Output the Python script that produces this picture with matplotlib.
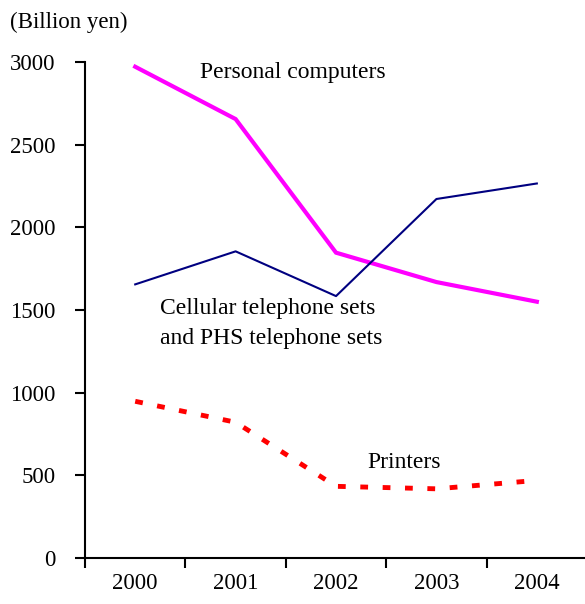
import numpy as np
import matplotlib
matplotlib.use('Agg')
import matplotlib.pyplot as plt

years = ['2000', '2001', '2002', '2003', '2004']
personal_computers = [2973, 2656, 1847, 1669, 1550]
cellular_phs = [1655, 1855, 1584, 2172, 2266]
printers = [947, 820, 432, 417, 468]

plt.rcParams['font.family'] = ['Liberation Serif', 'DejaVu Serif']

fig = plt.figure(figsize=(5.85, 6.04), dpi=100)
ax = fig.add_axes([0.1453, 0.0767, 0.8582, 0.8202])

x = np.arange(len(years))
ax.plot(x, personal_computers, color='#FF00FF', lw=3.0, solid_joinstyle='miter')
ax.plot(x, cellular_phs, color='#000080', lw=1.5)
ax.plot(x, printers, color='#FF0000', lw=3.5, dashes=(1.6, 3.0),
        dash_capstyle='butt')

ax.set_xlim(-0.5, len(years) - 0.5)
ax.set_ylim(0, 3000)
ax.set_yticks(np.arange(0, 3001, 500))

# category labels at centres, tick marks between categories
ax.set_xticks(x)
ax.set_xticklabels(years)
ax.set_xticks(np.arange(-0.5, len(years)), minor=True)
ax.tick_params(axis='x', which='major', length=0, pad=11, labelsize=16.5)
ax.tick_params(axis='x', which='minor', length=7, width=1.5, direction='out')
ax.tick_params(axis='y', length=7, width=1.5, direction='out', pad=14, labelsize=16.5)

for s in ['top', 'right']:
    ax.spines[s].set_visible(False)
for s in ['left', 'bottom']:
    ax.spines[s].set_linewidth(1.5)

fig.text(0.017, 0.963, '(Billion yen)', fontsize=16.5, va='center', ha='left')
ax.text(0.645, 2941, 'Personal computers', fontsize=17, va='center', ha='left')
ax.text(0.247, 1420, 'Cellular telephone sets\nand PHS telephone sets',
        fontsize=17, va='center', ha='left', linespacing=1.55)
ax.text(2.31, 575, 'Printers', fontsize=17, va='center', ha='left')

fig.savefig('out.png', dpi=100)
